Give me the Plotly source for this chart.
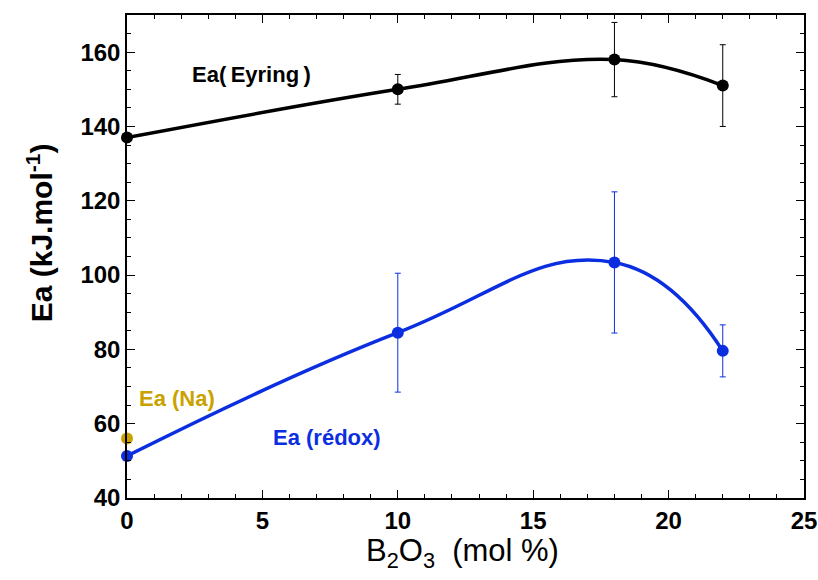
import plotly.graph_objects as go

# Data
x_vals = [0, 10, 18, 22]
eyring = [137, 150, 158, 151]
eyring_err_plus = [0, 4, 10, 11]
eyring_err_minus = [0, 4, 10, 11]
redox = [51.3, 84.5, 103.4, 79.6]
redox_err_plus = [0, 16, 19, 7]
redox_err_minus = [0, 16, 19, 7]
na_x = [0]
na_y = [56]

BLACK = "#000000"
BLUE = "#0b2fe0"
GOLD = "#c9a200"

fig = go.Figure()

fig.add_trace(go.Scatter(
    x=x_vals, y=eyring, mode="lines+markers",
    line=dict(color=BLACK, width=3.5, shape="spline", smoothing=1.1),
    marker=dict(color=BLACK, size=12, line=dict(width=0)),
    error_y=dict(type="data", array=eyring_err_plus, arrayminus=eyring_err_minus,
                 color=BLACK, thickness=1, width=3, visible=True),
    cliponaxis=False, showlegend=False))

fig.add_trace(go.Scatter(
    x=x_vals, y=redox, mode="lines+markers",
    line=dict(color=BLUE, width=3.5, shape="spline", smoothing=1.3),
    marker=dict(color=BLUE, size=12, line=dict(width=0)),
    error_y=dict(type="data", array=redox_err_plus, arrayminus=redox_err_minus,
                 color=BLUE, thickness=1, width=3, visible=True),
    cliponaxis=False, showlegend=False))

fig.add_trace(go.Scatter(
    x=na_x, y=na_y, mode="markers",
    marker=dict(color=GOLD, size=12, line=dict(width=0)),
    cliponaxis=False, showlegend=False))

FONT = "Liberation Sans, Arial, sans-serif"

fig.add_annotation(x=4.58, y=154, text="<b>Ea(\u2009Eyring\u2009)</b>", showarrow=False,
                   font=dict(family=FONT, size=22, color=BLACK))
fig.add_annotation(x=1.855, y=66.9, text="<b>Ea (Na)</b>", showarrow=False,
                   font=dict(family=FONT, size=22, color=GOLD))
fig.add_annotation(x=7.40, y=56.2, text="<b>Ea (rédox)</b>", showarrow=False,
                   font=dict(family=FONT, size=22, color=BLUE))

# Axis titles as annotations for precise placement
fig.add_annotation(xref="paper", yref="paper", x=0.495, y=-0.114,
                   xanchor="center", yanchor="middle",
                   text="B<sub>2</sub>O<sub>3</sub>  (mol %)", showarrow=False,
                   font=dict(family=FONT, size=31, color=BLACK))
fig.add_annotation(xref="paper", yref="paper", x=-0.1285, y=0.548, textangle=-90,
                   xanchor="center", yanchor="middle",
                   text="<b>Ea (kJ.mol<sup>-1</sup>)</b>", showarrow=False,
                   font=dict(family=FONT, size=30, color=BLACK))

axis_common = dict(
    showgrid=False, zeroline=False, automargin=False,
    showline=True, linecolor=BLACK, linewidth=1.5, mirror="allticks",
    ticks="inside", ticklen=8, tickwidth=1, tickcolor=BLACK,
    tickfont=dict(family=FONT, size=24, color=BLACK, weight="bold"),
    ticklabeloverflow="allow",
)

fig.update_xaxes(
    range=[0, 25], dtick=5, tick0=0,
    minor=dict(dtick=1, ticks="inside", ticklen=4.5, tickwidth=1, tickcolor=BLACK),
    **axis_common)

fig.update_yaxes(
    range=[40, 170], dtick=20, tick0=40,
    minor=dict(dtick=5, ticks="inside", ticklen=4.5, tickwidth=1, tickcolor=BLACK),
    **axis_common)

fig.update_layout(
    width=818, height=580,
    margin=dict(l=127, r=14, t=15, b=82),
    paper_bgcolor="white", plot_bgcolor="white",
)

fig.write_html(
    "out.html",
    config={"displayModeBar": False},
    post_script="document.body.style.margin='0';document.body.style.overflow='hidden';",
)
